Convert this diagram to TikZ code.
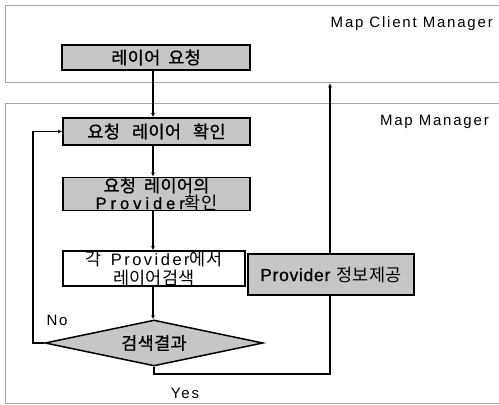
\documentclass[tikz,border=0pt]{standalone}
\usepackage{fontspec}
\setmainfont{Liberation Sans}
\newfontfamily\kr[LetterSpace=2]{Noto Sans CJK KR}
\newfontfamily\krb[LetterSpace=2,FakeBold=0.8]{Noto Sans CJK KR}
\newfontfamily\lt{Liberation Sans}
\newfontfamily\ltb[FakeBold=0.8]{Liberation Sans}
\newfontfamily\lat[LetterSpace=12]{Liberation Sans}
\newcommand\spaced[2]{{\addfontfeature{LetterSpace=#1}#2}}
\usetikzlibrary{shapes.geometric,arrows.meta}

\begin{document}
\begin{tikzpicture}[x=1pt,y=-1pt,
  frame/.style={draw=gray!70, line width=1.3pt, inner sep=0, anchor=north west},
  label/.style={font=\lat\fontsize{15}{17}\selectfont, inner sep=0},
  boxtext/.style={font=\kr\fontsize{17.5}{16}\selectfont, align=center, inner sep=0},
  graybox/.style={boxtext, draw=black, line width=1.8pt, fill=gray!45},
  whitebox/.style={boxtext, draw=black, line width=1.5pt, fill=white},
  flow/.style={line width=1.5pt},
  tip/.style={-{Latex[length=4pt,width=4pt]}}
]
\useasboundingbox (0,0) rectangle (499,405);

% swim-lane frames
\node[frame, minimum width=496pt, minimum height=77pt] (client) at (5,5) {};
\node[frame, minimum width=496pt, minimum height=300pt] (manager) at (5,103) {};
\node[label, anchor=east] (clientlbl) at (493,24) {Map Client Manager};
\node[label, anchor=east] (managerlbl) at (489,122) {Map Manager};

% flow steps
\coordinate (spine) at (153,0);
\coordinate (ret) at (330,0);
\node[graybox, minimum width=188pt, minimum height=25pt] (req) at (156,57.5)
  {\krb 레이어\hspace{8pt}요청};
\node[graybox, minimum width=187pt, minimum height=27pt] (chk) at (156.5,131.5)
  {\krb 요청\hspace{12pt}레이어\hspace{12pt}확인};
\node[graybox, minimum width=187pt, minimum height=33pt] (prov) at (156.5,194)
  {\krb 요청\hspace{8pt}레이어의\\[1pt]{\ltb\fontsize{16.5}{16}\selectfont\spaced{24}{Provider}}확인};
\node[whitebox, minimum width=182pt, minimum height=33pt] (search) at (154,268.5)
  {각\hspace{9pt}{\lt\fontsize{16.5}{16}\selectfont\spaced{15}{Provider}}에서\\[3pt]레이어검색};
\node[diamond, draw=black, line width=1.5pt, fill=gray!45, boxtext, aspect=4.7,
      minimum width=218pt, minimum height=46pt] (dia) at (154,343) {\krb 검색결과};

% connectors
\draw[flow, tip] (req.south -| spine) -- (chk.north -| spine);
\draw[flow, tip] (chk.south -| spine) -- (prov.north -| spine);
\draw[flow, tip] (prov.south -| spine) -- (search.north -| spine);
\draw[flow, tip] (search.south -| spine) -- (dia.north -| spine);
\coordinate (loopx) at (33,0);
\draw[flow, tip] (dia.west) -- (dia.west -| loopx) -- (chk.west -| loopx) -- (chk.west);
\coordinate (yesy) at (0,374);
\draw[flow, tip] (dia.south) -- (dia.south |- yesy) -- (ret |- yesy) -- (client.south -| ret);

% provider info box sits on the return line
\node[graybox, minimum width=166pt, minimum height=41pt] (info) at (331,274.5)
  {{\ltb\fontsize{17.5}{18}\selectfont\spaced{4}{Provider}}\hspace{6pt}정보제공};

\node[label, anchor=center] (no) at (57,320) {No};
\node[label, anchor=center] (yes) at (185,393) {Yes};
\end{tikzpicture}
\end{document}
